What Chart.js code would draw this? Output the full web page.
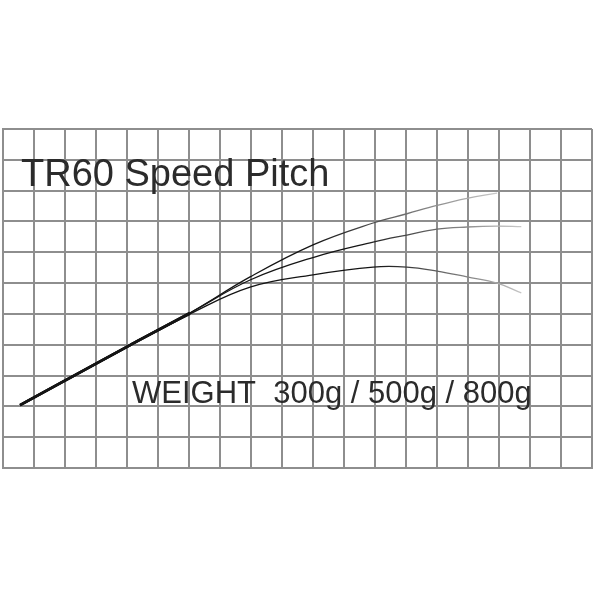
<!DOCTYPE html>
<html>
<head>
<meta charset="utf-8">
<script src="https://cdn.jsdelivr.net/npm/chart.js@4"></script>
<style>
  html, body { margin: 0; padding: 0; background: #fff; }
  canvas { display: block; }
</style>
</head>
<body>
<canvas id="pitch-chart" width="600" height="600"></canvas>
<script>
// grid positions (in grid cells) where the curves were sampled
const xPositions = [0.55, 4.10, 6.03, 7.97, 10.0, 11.94, 13.03, 14.0, 14.97, 15.94, 16.72];
// curve heights for each lure weight
const curve300g = [2.04, 3.99, 5.03, 6.20, 7.24, 7.95, 8.25, 8.52, 8.75, 8.92, null];
const curve500g = [2.04, 3.99, 5.03, 6.10, 6.83, 7.33, 7.56, 7.75, 7.82, 7.85, 7.83];
const curve800g = [2.04, 3.99, 5.00, 5.87, 6.27, 6.52, 6.52, 6.39, 6.20, 6.00, 5.68];
const seriesNames = ['300g', '500g', '800g'];
const titleText = 'TR60 Speed Pitch';
const weightText = 'WEIGHT  300g / 500g / 800g';

const gridColor = '#8e8e8e';

function toPoints(ys) {
    return xPositions.map((x, i) => ({ x: x, y: ys[i] }));
}

// line fades from black to light grey towards its tip
function fadeColor(fadeFrom, fadeTo) {
    return (ctx) => {
        const chart = ctx.chart;
        if (!chart.chartArea) return '#111';
        const xs = chart.scales.x;
        const x0 = xs.getPixelForValue(fadeFrom);
        const x1 = xs.getPixelForValue(fadeTo);
        const g = chart.ctx.createLinearGradient(x0, 0, x1, 0);
        g.addColorStop(0, 'rgba(20,20,20,1)');
        g.addColorStop(1, 'rgba(200,200,200,1)');
        return g;
    };
}

// thicker where the three curves run together
const segmentWidth = (ctx) => (ctx.p0.parsed.x < 5 ? 2.6 : 1.3);

// text labels drawn on top of the grid
const labelPlugin = {
    id: 'labels',
    afterDraw(chart) {
        const c = chart.ctx;
        c.save();
        c.fillStyle = '#2b2b2b';
        c.textBaseline = 'alphabetic';
        c.font = '38px "Liberation Sans", Arial, sans-serif';
        c.fillText(titleText, 21, 186);
        c.font = '31px "Liberation Sans", Arial, sans-serif';
        c.fillText(weightText, 132, 403);
        c.restore();
    }
};

new Chart(document.getElementById('pitch-chart'), {
    type: 'line',
    data: {
        datasets: [
            {
                label: seriesNames[0],
                data: toPoints(curve300g),
                borderColor: fadeColor(10.0, 15.9),
                segment: { borderWidth: segmentWidth },
                borderWidth: 1.3,
                pointRadius: 0,
                tension: 0.4
            },
            {
                label: seriesNames[1],
                data: toPoints(curve500g),
                borderColor: fadeColor(11.5, 16.7),
                segment: { borderWidth: segmentWidth },
                borderWidth: 1.3,
                pointRadius: 0,
                tension: 0.4
            },
            {
                label: seriesNames[2],
                data: toPoints(curve800g),
                borderColor: fadeColor(12.0, 16.8),
                segment: { borderWidth: segmentWidth },
                borderWidth: 1.3,
                pointRadius: 0,
                tension: 0.4
            }
        ]
    },
    options: {
        responsive: false,
        animation: false,
        layout: { padding: { left: 3, right: 8, top: 129, bottom: 132 } },
        plugins: {
            legend: { display: false },
            tooltip: { enabled: false }
        },
        scales: {
            x: {
                type: 'linear',
                min: 0,
                max: 19,
                ticks: { display: false, stepSize: 1 },
                grid: { color: gridColor, lineWidth: 2, drawTicks: false },
                border: { color: gridColor, width: 2 }
            },
            y: {
                type: 'linear',
                min: 0,
                max: 11,
                ticks: { display: false, stepSize: 1 },
                grid: { color: gridColor, lineWidth: 2, drawTicks: false },
                border: { color: gridColor, width: 2 }
            }
        }
    },
    plugins: [labelPlugin]
});
</script>
</body>
</html>
